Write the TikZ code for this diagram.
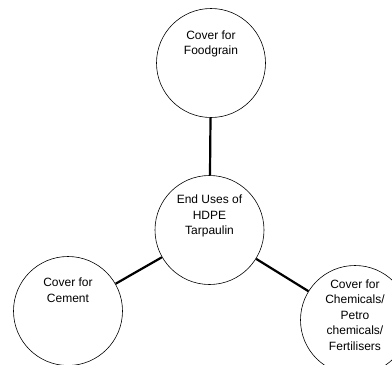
\documentclass[tikz,border=0pt]{standalone}
\usepackage{fontspec}
\setmainfont{Liberation Sans}
\tikzset{
  usecircle/.style={circle, draw, line width=0.6pt, minimum size=109pt, inner sep=0pt},
  usetext/.style={align=center, font=\fontsize{12}{15.5}\selectfont, inner sep=0pt},
  link/.style={line width=2.2pt}
}
\begin{document}
\begin{tikzpicture}[x=1pt,y=-1pt]
\useasboundingbox (0,0) rectangle (392,365);
% circles
\node[usecircle] (food) at (211,63) {};
\node[usecircle] (hdpe) at (209.5,230) {};
\node[usecircle] (cement) at (68,311) {};
\node[usecircle] (chem) at (355,320) {};
% texts
\node[usetext] (foodT) at ([yshift=19pt]food.center) {Cover for\\Foodgrain};
\node[usetext] (hdpeT) at ([yshift=14pt]hdpe.center) {End Uses of\\HDPE\\Tarpaulin};
\node[usetext] (cementT) at ([yshift=21pt]cement.center) {Cover for\\Cement};
\node[usetext] (chemT) at ([yshift=5pt]chem.center) {Cover for\\Chemicals/\\Petro\\chemicals/\\Fertilisers};
% links
\draw[link] (hdpe) -- (food);
\draw[link] (hdpe) -- (cement);
\draw[link] (hdpe) -- (chem);
\end{tikzpicture}
\end{document}
